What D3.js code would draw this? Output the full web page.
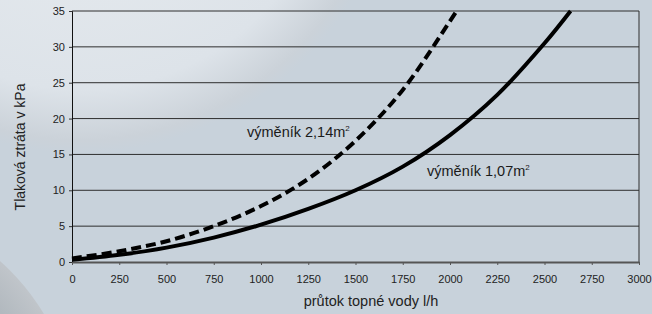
<!DOCTYPE html>
<html>
<head>
<meta charset="utf-8">
<script src="https://cdn.jsdelivr.net/npm/d3@7"></script>
<style>
  html, body { margin: 0; padding: 0; background: #c8d2db; }
  svg { display: block; }
</style>
</head>
<body>
<div id="graph"></div>
<script>
// data
var xTicks = [0, 250, 500, 750, 1000, 1250, 1500, 1750, 2000, 2250, 2500, 2750, 3000];
var yTicks = [0, 5, 10, 15, 20, 25, 30, 35];

// výměník 1,07 m2 (solid)
var flowSmall = [0, 250, 500, 750, 1000, 1250, 1500, 1750, 2000, 2250, 2500, 2638];
var lossSmall = [0.3, 1.0, 2.0, 3.4, 5.2, 7.4, 10.0, 13.3, 17.7, 23.3, 30.5, 35];

// výměník 2,14 m2 (dashed)
var flowBig = [0, 250, 500, 750, 1000, 1250, 1500, 1750, 2000, 2035];
var lossBig = [0.5, 1.5, 2.9, 5.0, 7.8, 11.6, 16.9, 24.0, 33.6, 35];

var w = 652;
var h = 314;
var margin = {top: 11, right: 13, bottom: 52, left: 72};
var font = "'Liberation Sans', Arial, sans-serif";

var svg = d3.select("#graph")
            .append("svg")
            .attr("width", w)
            .attr("height", h)
            .attr("font-family", font);

// background decoration
var defs = svg.append("defs");
var g1 = defs.append("radialGradient").attr("id", "lightDisk");
g1.append("stop").attr("offset", "0%").attr("stop-color", "#e9edf0");
g1.append("stop").attr("offset", "80%").attr("stop-color", "#dde3e9");
g1.append("stop").attr("offset", "96%").attr("stop-color", "#cbd2d9");
g1.append("stop").attr("offset", "100%").attr("stop-color", "#c8d2db");

var g2 = defs.append("radialGradient").attr("id", "grayDisk");
g2.append("stop").attr("offset", "0%").attr("stop-color", "#a4abb2");
g2.append("stop").attr("offset", "85%").attr("stop-color", "#b2b9bf");
g2.append("stop").attr("offset", "100%").attr("stop-color", "#c0c5ca");

svg.append("rect").attr("width", w).attr("height", h).attr("fill", "#c8d2db");
svg.append("circle").attr("cx", 80).attr("cy", -165).attr("r", 318)
   .attr("fill", "url(#lightDisk)");
svg.append("circle").attr("cx", -150).attr("cy", 430).attr("r", 226)
   .attr("fill", "url(#grayDisk)");

var x = d3.scaleLinear()
          .domain([0, 3000])
          .range([margin.left, w - margin.right]);

var y = d3.scaleLinear()
          .domain([0, 35])
          .range([h - margin.bottom, margin.top]);

// gridlines
svg.append("g")
   .selectAll("line")
   .data(yTicks.slice(1))
   .enter()
   .append("line")
   .attr("x1", x(0))
   .attr("x2", x(3000))
   .attr("y1", function(d) { return y(d); })
   .attr("y2", function(d) { return y(d); })
   .attr("stroke", "#2e2e2e")
   .attr("stroke-width", 1);

// right border
svg.append("line")
   .attr("x1", x(3000)).attr("x2", x(3000))
   .attr("y1", y(35)).attr("y2", y(0))
   .attr("stroke", "#2e2e2e");

// y axis
var yAxis = svg.append("g")
   .attr("transform", "translate(" + x(0) + ",0)")
   .call(d3.axisLeft(y).tickValues(yTicks).tickFormat(d3.format("d"))
           .tickSize(3).tickPadding(4));
yAxis.select(".domain").attr("stroke", "#111");
yAxis.selectAll(".tick line").attr("stroke", "#333");
yAxis.selectAll("text").attr("font-size", "11px").attr("fill", "#222")
     .attr("font-family", font);

// x axis
var xAxis = svg.append("g")
   .attr("transform", "translate(0," + y(0) + ")")
   .call(d3.axisBottom(x).tickValues(xTicks).tickFormat(d3.format("d"))
           .tickSize(3).tickPadding(10).tickSizeOuter(0));
xAxis.select(".domain").attr("stroke", "#555").attr("stroke-width", 2);
xAxis.selectAll(".tick line").attr("stroke", "#555");
xAxis.selectAll("text").attr("font-size", "11px").attr("fill", "#222")
     .attr("font-family", font);

// curves
var line = d3.line()
   .x(function(d) { return x(d[0]); })
   .y(function(d) { return y(d[1]); })
   .curve(d3.curveCatmullRom.alpha(0.5));

svg.append("path")
   .datum(d3.zip(flowSmall, lossSmall))
   .attr("d", line)
   .attr("fill", "none")
   .attr("stroke", "#000")
   .attr("stroke-width", 4);

svg.append("path")
   .datum(d3.zip(flowBig, lossBig))
   .attr("d", line)
   .attr("fill", "none")
   .attr("stroke", "#000")
   .attr("stroke-width", 4)
   .attr("stroke-dasharray", "10,5");

// curve labels
function label(px, py, txt, sup) {
  var t = svg.append("text")
     .attr("x", px)
     .attr("y", py)
     .attr("font-size", "14.5px")
     .attr("fill", "#1a1a1a");
  t.append("tspan").text(txt);
  t.append("tspan").text(sup)
   .attr("font-size", "8px")
   .attr("dy", "-6");
}
label(247, 137, "výměník 2,14m", "2");
label(427, 176, "výměník 1,07m", "2");

// axis titles
svg.append("text")
   .attr("x", 371)
   .attr("y", 306)
   .attr("text-anchor", "middle")
   .attr("font-size", "14.5px")
   .attr("fill", "#222")
   .text("průtok topné vody l/h");

svg.append("text")
   .attr("transform", "translate(25,147) rotate(-90)")
   .attr("text-anchor", "middle")
   .attr("font-size", "14px")
   .attr("fill", "#222")
   .text("Tlaková ztráta v kPa");
</script>
</body>
</html>
